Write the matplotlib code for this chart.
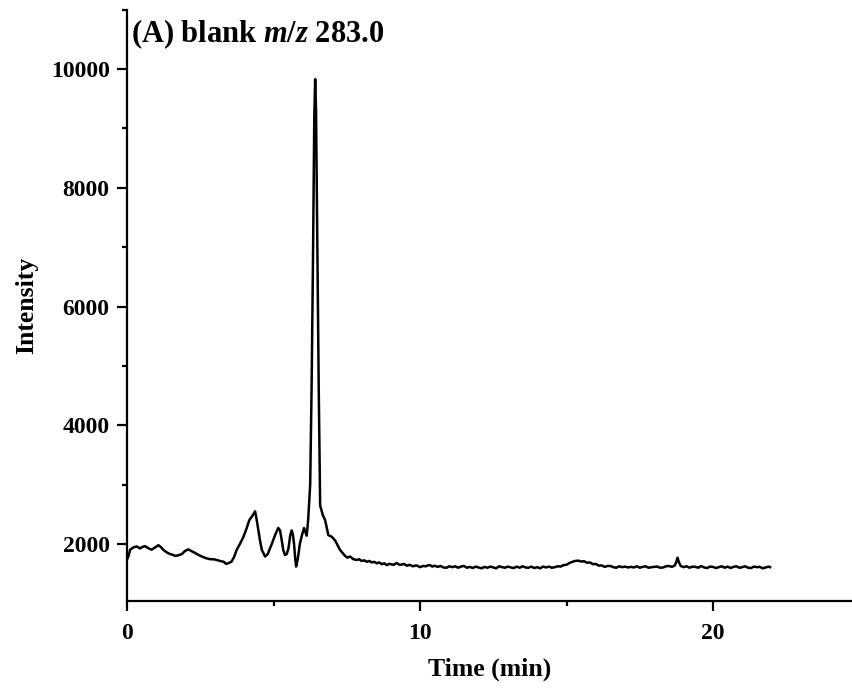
import matplotlib
matplotlib.use("Agg")
import matplotlib.pyplot as plt
from matplotlib.ticker import MultipleLocator

plt.rcParams["font.family"] = ["Liberation Serif", "DejaVu Serif"]
plt.rcParams["font.weight"] = "bold"
plt.rcParams["mathtext.fontset"] = "custom"
plt.rcParams["mathtext.rm"] = "Liberation Serif:bold"
plt.rcParams["mathtext.it"] = "Liberation Serif:bold:italic"

## DATA

time_min = [
    0.0, 0.05, 0.1, 0.2, 0.33, 0.44, 0.52, 0.61, 0.72, 0.84, 0.95, 1.07, 1.15, 1.24,
    1.35, 1.47, 1.55, 1.64, 1.75, 1.87, 1.97, 2.09, 2.2, 2.32, 2.42, 2.55, 2.7, 2.83,
    3.0, 3.17, 3.3, 3.38, 3.47, 3.57, 3.65, 3.74, 3.85, 3.97, 4.07, 4.17, 4.27, 4.37,
    4.42, 4.48, 4.54, 4.6, 4.71, 4.8, 4.88, 4.97, 5.05, 5.16, 5.22, 5.28, 5.33, 5.39,
    5.45, 5.51, 5.57, 5.62, 5.66, 5.7, 5.74, 5.77, 5.83, 5.9, 5.97, 6.04, 6.09, 6.13,
    6.18, 6.25, 6.3, 6.35, 6.39, 6.42, 6.45, 6.49, 6.54, 6.59, 6.64, 6.68, 6.76, 6.87,
    6.99, 7.1, 7.27, 7.44, 7.52, 7.61, 7.72, 7.84, 7.92, 8.0, 8.1, 8.18, 8.27, 8.35,
    8.44, 8.52, 8.6, 8.7, 8.78, 8.86, 8.95, 9.0, 9.1, 9.2, 9.28, 9.35, 9.45, 9.55,
    9.65, 9.75, 9.88, 10.0, 10.1, 10.2, 10.27, 10.34, 10.42, 10.5, 10.6, 10.7, 10.8,
    10.9, 11.0, 11.1, 11.2, 11.3, 11.4, 11.5, 11.6, 11.7, 11.8, 11.9, 12.0, 12.1,
    12.2, 12.3, 12.4, 12.5, 12.6, 12.7, 12.8, 12.9, 13.0, 13.1, 13.2, 13.3, 13.4,
    13.5, 13.6, 13.7, 13.8, 13.9, 14.0, 14.1, 14.2, 14.3, 14.4, 14.5, 14.6, 14.7,
    14.8, 14.9, 15.0, 15.1, 15.2, 15.3, 15.4, 15.5, 15.6, 15.7, 15.8, 15.9, 16.0,
    16.1, 16.2, 16.3, 16.4, 16.5, 16.6, 16.7, 16.8, 16.9, 17.0, 17.1, 17.2, 17.3,
    17.4, 17.5, 17.6, 17.7, 17.8, 17.9, 18.0, 18.1, 18.2, 18.3, 18.4, 18.5, 18.6,
    18.7, 18.75, 18.79, 18.84, 18.9, 19.0, 19.1, 19.2, 19.3, 19.4, 19.5, 19.6, 19.7,
    19.8, 19.9, 20.0, 20.1, 20.2, 20.3, 20.4, 20.5, 20.6, 20.7, 20.8, 20.9, 21.0,
    21.1, 21.2, 21.3, 21.4, 21.5, 21.6, 21.7, 21.8, 21.9, 21.95,
]
intensity = [
    1740, 1800, 1900, 1940, 1960, 1925, 1950, 1965, 1930, 1905, 1940, 1980, 1950, 1900,
    1860, 1830, 1820, 1800, 1810, 1830, 1880, 1910, 1880, 1850, 1820, 1790, 1760, 1745,
    1740, 1715, 1700, 1665, 1680, 1705, 1780, 1900, 2000, 2120, 2250, 2400, 2470, 2550,
    2420, 2235, 2050, 1900, 1790, 1830, 1930, 2040, 2150, 2270, 2230, 2060, 1900, 1815,
    1830, 1930, 2150, 2230, 2160, 2000, 1750, 1620, 1760, 2010, 2150, 2270, 2200, 2140,
    2400, 3000, 4700, 7000, 9200, 9830, 9300, 7200, 4700, 2650, 2560, 2490, 2400, 2150,
    2120, 2060, 1900, 1800, 1770, 1790, 1745, 1730, 1745, 1715, 1725, 1700, 1715, 1690,
    1700, 1675, 1690, 1660, 1675, 1645, 1665, 1660, 1650, 1680, 1655, 1650, 1665, 1635,
    1650, 1625, 1640, 1610, 1630, 1625, 1640, 1645, 1620, 1635, 1615, 1630, 1605,
    1600, 1625, 1610, 1625, 1600, 1620, 1630, 1600, 1615, 1595, 1620, 1605, 1590,
    1615, 1600, 1620, 1605, 1590, 1625, 1610, 1600, 1620, 1605, 1595, 1620, 1600,
    1625, 1605, 1600, 1620, 1595, 1610, 1590, 1620, 1605, 1620, 1600, 1610, 1625,
    1620, 1645, 1650, 1680, 1700, 1715, 1720, 1705, 1710, 1685, 1690, 1660, 1665,
    1635, 1640, 1615, 1630, 1630, 1610, 1600, 1625, 1610, 1620, 1605, 1615, 1605,
    1625, 1600, 1615, 1625, 1600, 1610, 1615, 1620, 1600, 1605, 1625, 1630, 1615,
    1640, 1700, 1770, 1690, 1630, 1610, 1625, 1600, 1620, 1615, 1600, 1630, 1605,
    1595, 1620, 1615, 1595, 1610, 1625, 1600, 1620, 1595, 1615, 1625, 1600, 1610,
    1625, 1600, 1595, 1620, 1610, 1615, 1590, 1605, 1620, 1610,
]

## PLOT

fig = plt.figure(figsize=(8.53, 6.94), dpi=100)
ax = fig.add_axes([0.149, 0.134, 0.851, 0.852])

ax.plot(time_min, intensity, color="black", linewidth=1.8)

ax.set_xlim(0, 24.78)
ax.set_ylim(1040, 11000)
ax.xaxis.set_major_locator(MultipleLocator(10))
ax.xaxis.set_minor_locator(MultipleLocator(5))
ax.yaxis.set_major_locator(MultipleLocator(2000))
ax.yaxis.set_minor_locator(MultipleLocator(1000))

for side in ["top", "right"]:
    ax.spines[side].set_visible(False)
for side in ["left", "bottom"]:
    ax.spines[side].set_linewidth(1.6)

ax.tick_params(which="major", direction="out", length=7.5, width=1.6, labelsize=17, pad=5)
ax.tick_params(which="minor", direction="out", length=3.5, width=1.6)
ax.tick_params(axis="x", which="major", pad=8)

ax.set_xlabel("Time (min)", fontsize=18.5, fontweight="bold", labelpad=10)
ax.set_ylabel("Intensity", fontsize=18.5, fontweight="bold", labelpad=9)

ax.text(0.005, 0.958, r"(A) blank $\mathit{m/z}$ 283.0", transform=ax.transAxes,
        fontsize=22, fontweight="bold", ha="left", va="center")

fig.savefig("out.png", dpi=100)
